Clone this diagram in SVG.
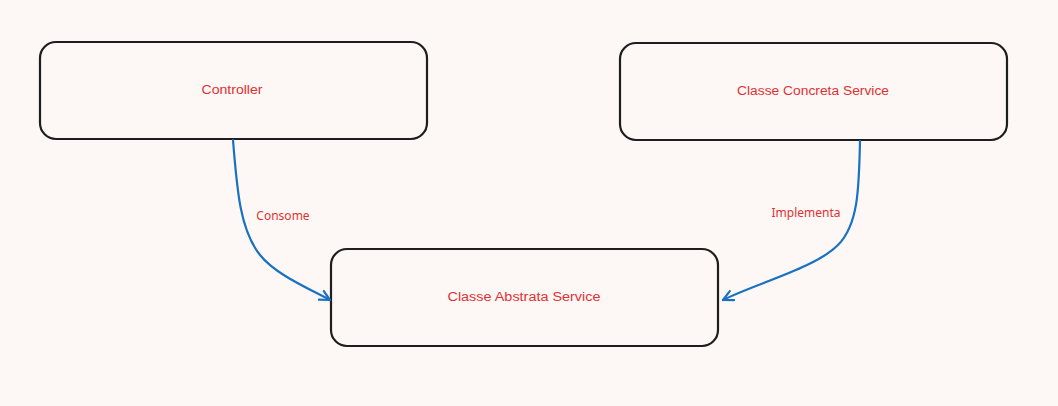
<svg xmlns="http://www.w3.org/2000/svg" width="1058" height="406" viewBox="0 0 1058 406">
<defs>
<style>
.node rect{fill:#fdf8f6;stroke:#1e1e1e;stroke-width:2.2}
.nt{font-family:"Liberation Sans",sans-serif;font-size:12.5px;fill:#e03131;text-anchor:middle;dominant-baseline:central}
.el{font-family:"Noto Sans","Open Sans",sans-serif;font-size:12px;fill:#e03131;text-anchor:middle;dominant-baseline:central}
.edge{fill:none;stroke:#1971c2;stroke-width:2.2;stroke-linecap:round}
</style>
<marker id="arr" viewBox="0 0 12 12" refX="11" refY="6" markerWidth="12" markerHeight="12" markerUnits="userSpaceOnUse" orient="auto">
<path d="M1 1 L11 6 L1 11" fill="none" stroke="#1971c2" stroke-width="2.2" stroke-linecap="round" stroke-linejoin="round"/>
</marker>
</defs>
<rect width="1058" height="406" fill="#fdf8f6"/>
<g id="controller" class="node"><rect x="40" y="42" width="387" height="97" rx="16"/><text class="nt" x="232" y="90" textLength="61" lengthAdjust="spacingAndGlyphs">Controller</text></g>
<g id="concreta" class="node"><rect x="620" y="43" width="387" height="97" rx="16"/><text class="nt" x="813" y="91" textLength="152" lengthAdjust="spacingAndGlyphs">Classe Concreta Service</text></g>
<g id="abstrata" class="node"><rect x="331" y="249" width="387" height="97" rx="16"/><text class="nt" x="524" y="297" textLength="153" lengthAdjust="spacingAndGlyphs">Classe Abstrata Service</text></g>
<g id="connectors">
<path class="edge" marker-end="url(#arr)" d="M233 140 C 237 190, 240 230, 260 255 C 276 275, 310 289, 330 300"/>
<path class="edge" marker-end="url(#arr)" d="M860 141 C 859 190, 858 225, 838 245 C 815 268, 760 282, 723 300"/>
<text class="el" x="283" y="215">Consome</text>
<text class="el" x="806" y="212">Implementa</text>
</g>
</svg>
